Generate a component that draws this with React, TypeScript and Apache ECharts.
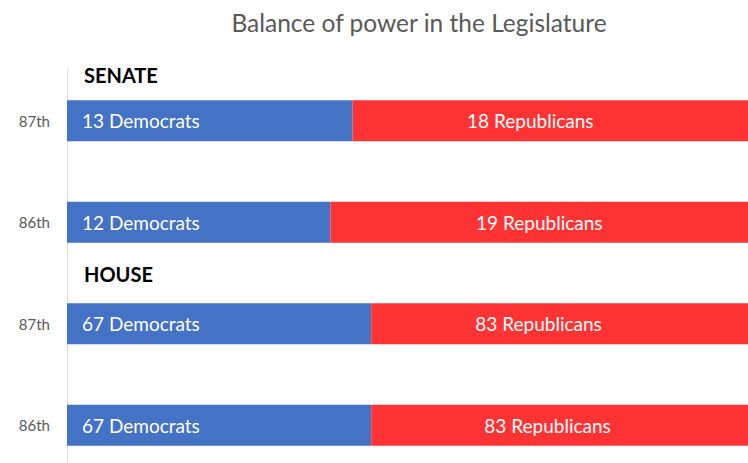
import React, { useEffect, useRef } from "react";
import * as echarts from "echarts";

const categories = ["senate87", "senate86", "house87", "house86"];
const tickLabels = ["87th", "86th", "87th", "86th"];
const democrats = [13, 12, 67, 67];
const republicans = [18, 19, 83, 83];
const chamberHeaders = ["SENATE", "HOUSE"];
const repLabelShift = [-20, 0, -21, -12];

const FONT = "Lato, 'Open Sans', sans-serif";

export default function App() {
  const ref = useRef<HTMLDivElement>(null);
  useEffect(() => {
    if (!ref.current) return;
    const chart = echarts.init(ref.current, null, { renderer: "svg" });
    const totals = democrats.map((d, i) => d + republicans[i]);
    const demPct = democrats.map((d, i) => (d / totals[i]) * 100);
    const repPct = republicans.map((r, i) => (r / totals[i]) * 100);
    chart.setOption({
      animation: false,
      title: {
        text: "Balance of power in the Legislature",
        left: 414,
        textAlign: "center",
        top: 5,
        textStyle: { fontFamily: FONT, fontSize: 24.5, fontWeight: "normal", color: "#595959" },
      },
      grid: { left: 67, right: 0, top: 70, bottom: 0, containLabel: false },
      xAxis: {
        type: "value",
        min: 0,
        max: 100,
        show: false,
      },
      yAxis: {
        type: "category",
        inverse: true,
        data: categories,
        axisLine: { show: true, lineStyle: { color: "#d9d9d9", width: 1 } },
        axisTick: { show: false },
        axisLabel: {
          margin: 17,
          fontFamily: FONT,
          fontSize: 15,
          color: "#595959",
          formatter: (_v: string, i: number) => tickLabels[i],
        },
      },
      series: [
        {
          name: "Democrats",
          type: "bar",
          stack: "total",
          barWidth: 41,
          itemStyle: { color: "#4472C4" },
          label: {
            show: true,
            position: "insideLeft",
            distance: 15,
            fontFamily: FONT,
            fontSize: 19,
            color: "#ffffff",
            formatter: (p: any) => `${democrats[p.dataIndex]} Democrats`,
          },
          data: demPct,
        },
        {
          name: "Republicans",
          type: "bar",
          stack: "total",
          barWidth: 41,
          itemStyle: { color: "#FF3333" },
          label: {
            show: true,
            position: "inside",
            fontFamily: FONT,
            fontSize: 19,
            color: "#ffffff",
            formatter: (p: any) => `${republicans[p.dataIndex]} Republicans`,
          },
          data: repPct.map((v, i) => ({ value: v, label: { offset: [repLabelShift[i], 0] } })),
        },
      ],
      graphic: [
        {
          type: "text",
          left: 84,
          top: 65,
          style: { text: chamberHeaders[0], fontFamily: FONT, fontSize: 20, fontWeight: "bold", fill: "#000000" },
        },
        {
          type: "text",
          left: 84,
          top: 264,
          style: { text: chamberHeaders[1], fontFamily: FONT, fontSize: 20, fontWeight: "bold", fill: "#000000" },
        },
      ],
    });
    return () => chart.dispose();
  }, []);
  return (
    <div
      style={{ position: "fixed", left: 0, top: 0, width: 748, height: 463, overflow: "hidden", background: "#ffffff" }}
    >
      <div ref={ref} style={{ width: 748, height: 476 }} />
    </div>
  );
}
